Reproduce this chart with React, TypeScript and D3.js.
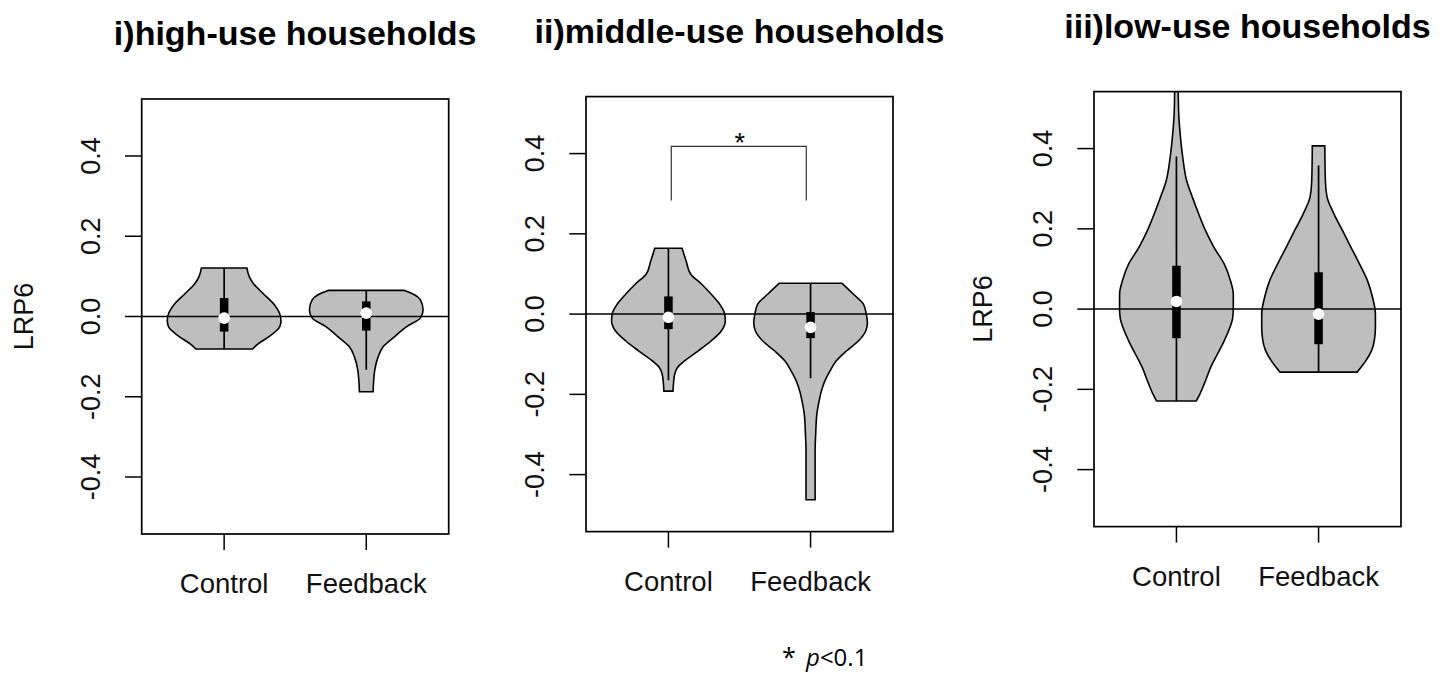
import React from 'react';
import * as d3 from 'd3';

// ---------- data ----------
const categories = ['Control', 'Feedback'];
const panelTitles = ['i)high-use households', 'ii)middle-use households', 'iii)low-use households'];
const yTicks = [-0.4, -0.2, 0.0, 0.2, 0.4];
const yTickLabels = ['-0.4', '-0.2', '0.0', '0.2', '0.4'];
const yLabel = 'LRP6';

// violin outlines: [LRP6 value, relative density (1 = widest)]
const highControlProfile: [number, number][] = [
  [-0.081, 0.5], [-0.07, 0.58], [-0.05, 0.79], [-0.025, 0.98], [-0.01, 1.0], [0.01, 0.97],
  [0.03, 0.88], [0.058, 0.68], [0.083, 0.51], [0.1, 0.44], [0.121, 0.4],
];
const highFeedbackProfile: [number, number][] = [
  [-0.1875, 0.12], [-0.16, 0.13], [-0.133, 0.15], [-0.1, 0.21], [-0.075, 0.3], [-0.05, 0.5],
  [-0.025, 0.71], [-0.004, 0.95], [0.017, 1.0], [0.042, 0.95], [0.055, 0.84], [0.065, 0.67],
];
const middleControlProfile: [number, number][] = [
  [-0.192, 0.08], [-0.171, 0.09], [-0.15, 0.11], [-0.133, 0.16], [-0.117, 0.28], [-0.092, 0.52],
  [-0.067, 0.75], [-0.042, 0.93], [-0.017, 1.0], [0.0, 0.99], [0.025, 0.9], [0.05, 0.75],
  [0.075, 0.58], [0.1, 0.39], [0.133, 0.31], [0.164, 0.24],
];
const middleFeedbackProfile: [number, number][] = [
  [-0.4625, 0.08], [-0.4, 0.08], [-0.34, 0.08], [-0.3, 0.09], [-0.25, 0.11], [-0.217, 0.15],
  [-0.192, 0.19], [-0.167, 0.25], [-0.142, 0.34], [-0.117, 0.45], [-0.092, 0.63], [-0.067, 0.84],
  [-0.042, 0.97], [-0.021, 1.0], [0.0, 0.98], [0.025, 0.93], [0.05, 0.75], [0.077, 0.55],
];
const lowControlProfile: [number, number][] = [
  [-0.229, 0.35], [-0.2125, 0.41], [-0.179, 0.51], [-0.146, 0.6], [-0.1125, 0.72], [-0.079, 0.84],
  [-0.046, 0.94], [-0.021, 0.99], [0.0, 1.0], [0.0375, 1.0], [0.071, 0.95], [0.1125, 0.84],
  [0.154, 0.66], [0.196, 0.51], [0.2375, 0.39], [0.279, 0.28], [0.32, 0.18], [0.379, 0.11],
  [0.446, 0.06], [0.4875, 0.04], [0.56, 0.03],
];
const lowFeedbackProfile: [number, number][] = [
  [-0.157, 0.68], [-0.146, 0.74], [-0.129, 0.83], [-0.104, 0.93], [-0.079, 0.98], [-0.046, 1.0],
  [-0.0125, 1.0], [0.029, 0.95], [0.071, 0.86], [0.1125, 0.72], [0.154, 0.57], [0.196, 0.42],
  [0.2375, 0.27], [0.279, 0.15], [0.32, 0.12], [0.4067, 0.11],
];

// box stats: [lower whisker, Q1, median, Q3, upper whisker]
const highControlBox = [-0.081, -0.0375, -0.004, 0.046, 0.121];
const highFeedbackBox = [-0.133, -0.035, 0.0085, 0.0375, 0.065];
const middleControlBox = [-0.165, -0.0375, -0.008, 0.044, 0.164];
const middleFeedbackBox = [-0.16, -0.06, -0.033, 0.005, 0.077];
const lowControlBox = [-0.229, -0.0725, 0.019, 0.108, 0.38];
const lowFeedbackBox = [-0.157, -0.0875, -0.0125, 0.0917, 0.358];

// significance bracket (middle-use): [x from, x to, y low, y top]
const bracketMiddle = [1.02, 1.97, 0.283, 0.418];
const bracketLabel = '*';
const footnoteStar = '*';
const footnoteP = 'p';
const footnoteRest = '<0.1';

const panelProfiles = [
  [highControlProfile, highFeedbackProfile],
  [middleControlProfile, middleFeedbackProfile],
  [lowControlProfile, lowFeedbackProfile],
];
const panelBoxes = [
  [highControlBox, highFeedbackBox],
  [middleControlBox, middleFeedbackBox],
  [lowControlBox, lowFeedbackBox],
];

// ---------- layout ----------
const W = 1451;
const H = 673;
const PW = 307;
const PH = 435;
const layout = [
  { left: 141.7, top: 99, ylabX: 33.3, showYLab: true, bracket: null as number[] | null },
  { left: 586, top: 96.6, ylabX: 0, showYLab: false, bracket: bracketMiddle },
  { left: 1094, top: 91.6, ylabX: 991.7, showYLab: true, bracket: null as number[] | null },
];
const FONT = '"Liberation Sans", Arial, sans-serif';

function Panel({ idx }: { idx: number }) {
  const cfg = layout[idx];
  const x = d3.scaleLinear().domain([0.42, 2.58]).range([cfg.left, cfg.left + PW]);
  const y = d3.scaleLinear().domain([-0.542, 0.542]).range([cfg.top + PH, cfg.top]);
  const clipId = `clip-${idx}`;
  const bottom = cfg.top + PH;
  const cxMid = (cfg.left + cfg.left + PW) / 2;

  return (
    <g>
      <defs>
        <clipPath id={clipId}>
          <rect x={cfg.left} y={cfg.top} width={PW} height={PH} />
        </clipPath>
      </defs>
      <text x={cxMid} y={cfg.top - 54} textAnchor="middle" fontFamily={FONT} fontWeight="bold" fontSize={34} fill="#000">
        {panelTitles[idx]}
      </text>
      <g clipPath={`url(#${clipId})`}>
        {panelProfiles[idx].map((prof, i) => {
          const c = i + 1;
          const area = d3
            .area<[number, number]>()
            .y((d) => y(d[0]))
            .x0((d) => x(c - 0.4 * d[1]))
            .x1((d) => x(c + 0.4 * d[1]))
            .curve(d3.curveMonotoneY);
          return <path key={i} d={area(prof) || ''} fill="#bebebe" stroke="#000" strokeWidth={1.6} />;
        })}
        <line x1={cfg.left} x2={cfg.left + PW} y1={y(0)} y2={y(0)} stroke="#000" strokeWidth={1.5} />
        {panelBoxes[idx].map((b, i) => {
          const c = i + 1;
          return (
            <g key={i}>
              <line x1={x(c)} x2={x(c)} y1={y(b[0])} y2={y(b[4])} stroke="#000" strokeWidth={1.7} />
              <rect x={x(c - 0.03)} width={x(c + 0.03) - x(c - 0.03)} y={y(b[3])} height={y(b[1]) - y(b[3])} fill="#000" />
              <circle cx={x(c)} cy={y(b[2])} r={5.8} fill="#fff" />
            </g>
          );
        })}
      </g>
      {cfg.bracket && (
        <g>
          <path
            d={`M${x(cfg.bracket[0])},${y(cfg.bracket[2])}V${y(cfg.bracket[3])}H${x(cfg.bracket[1])}V${y(cfg.bracket[2])}`}
            fill="none"
            stroke="#333"
            strokeWidth={1.2}
          />
          <text x={x((cfg.bracket[0] + cfg.bracket[1]) / 2) + 1} y={y(cfg.bracket[3]) + 6} textAnchor="middle" fontFamily={FONT} fontSize={27} fill="#000">
            {bracketLabel}
          </text>
        </g>
      )}
      {/* y axis */}
      {yTicks.map((t, i) => (
        <g key={t}>
          <line x1={cfg.left - 16.7} x2={cfg.left} y1={y(t)} y2={y(t)} stroke="#000" strokeWidth={1.5} />
          <text
            transform={`translate(${cfg.left - 41.7},${y(t)}) rotate(-90)`}
            textAnchor="middle"
            fontFamily={FONT}
            fontSize={27}
            fill="#111"
          >
            {yTickLabels[i]}
          </text>
        </g>
      ))}
      {cfg.showYLab && (
        <text
          transform={`translate(${cfg.ylabX},${y(0)}) rotate(-90)`}
          textAnchor="middle"
          fontFamily={FONT}
          fontSize={27}
          fill="#111"
        >
          {yLabel}
        </text>
      )}
      {/* x axis */}
      {categories.map((cat, i) => (
        <g key={cat}>
          <line x1={x(i + 1)} x2={x(i + 1)} y1={bottom} y2={bottom + 16} stroke="#000" strokeWidth={1.5} />
          <text x={x(i + 1)} y={bottom + 59} textAnchor="middle" fontFamily={FONT} fontSize={27.5} fill="#111">
            {cat}
          </text>
        </g>
      ))}
      <rect x={cfg.left} y={cfg.top} width={PW} height={PH} fill="none" stroke="#000" strokeWidth={1.7} />
    </g>
  );
}

export default function App() {
  return (
    <svg width={W} height={H} style={{ position: 'absolute', left: 0, top: 0, background: '#fff' }}>
      <rect width={W} height={H} fill="#fff" />
      {layout.map((_, i) => (
        <Panel key={i} idx={i} />
      ))}
      <text x={782} y={666} fontFamily='"Open Sans", sans-serif' fontSize={25} fill="#000">
        {footnoteStar}
      </text>
      <text x={806} y={666} fontFamily='"Open Sans", sans-serif' fontSize={24} fill="#000">
        <tspan fontStyle="italic">{footnoteP}</tspan>
        <tspan>{footnoteRest}</tspan>
      </text>
    </svg>
  );
}
